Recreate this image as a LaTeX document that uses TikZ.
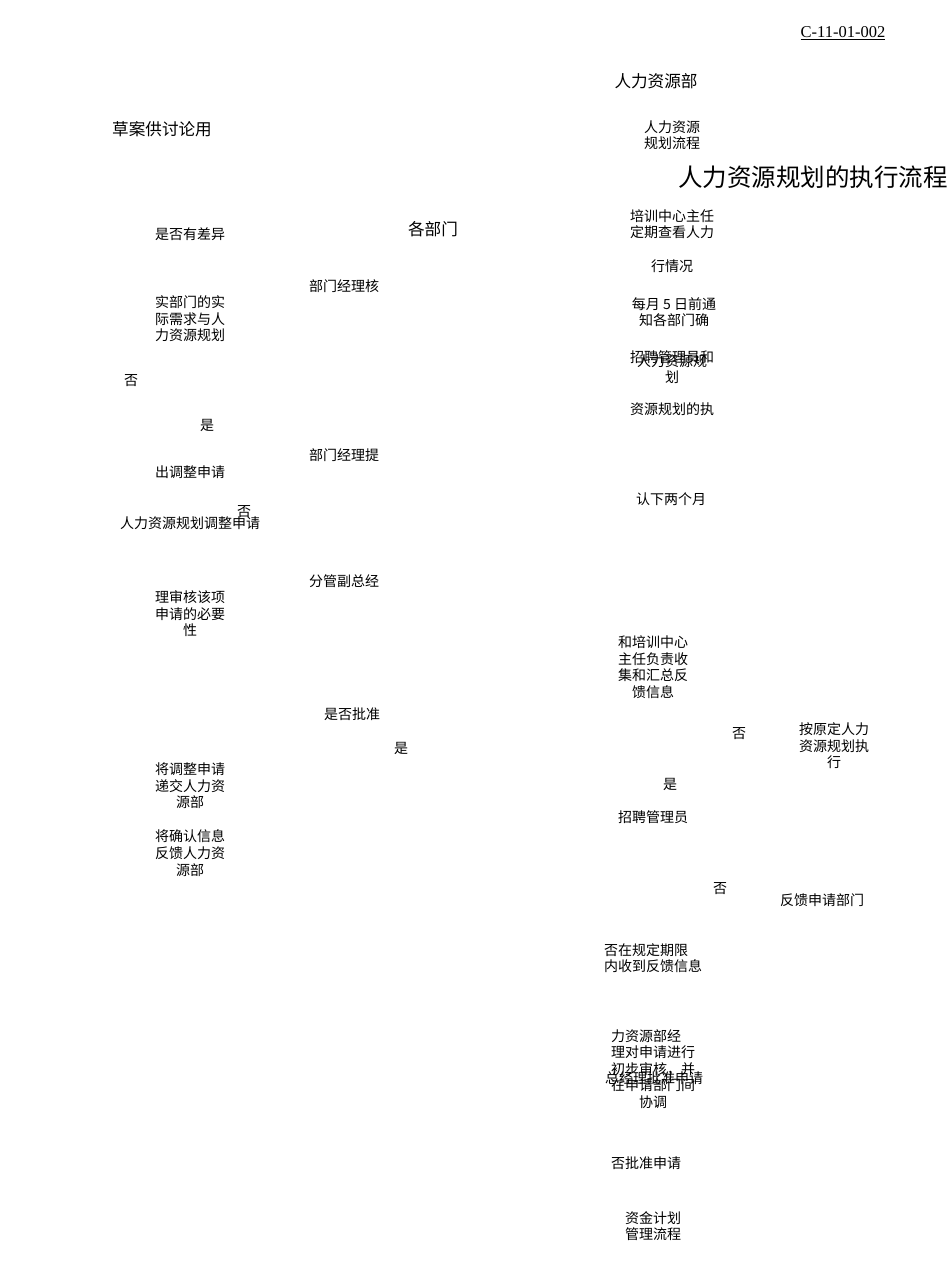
\documentclass[tikz,border=0pt]{standalone}
\usepackage{fontspec}
\setmainfont{Noto Sans CJK SC}
\newfontfamily\codefont{Liberation Serif}
\usetikzlibrary{positioning}

\begin{document}
\begin{tikzpicture}[
        x=1pt, y=-1pt,
        every node/.style={inner sep=0pt, font=\fontsize{14}{16.6}\selectfont},
        txt/.style={align=center},
        lefttxt/.style={align=left, anchor=west},
        head/.style={font=\fontsize{16.6}{20}\selectfont},
        bigtitle/.style={font=\fontsize{24.5}{28}\selectfont},
        code/.style={font=\codefont\fontsize{16.5}{19}\selectfont},
    ]
    \useasboundingbox (0,0) rectangle (950,1267);

    % Header
    \node [code] (docno) at (843,33) {\underline{C-11-01-002}};
    \node [head] (hrdept) at (656,81) {人力资源部};
    \node [head] (draft) at (162,129) {草案供讨论用};
    \node [txt] (hrplan) at (672,135) {人力资源\\规划流程};
    \node [bigtitle] (title) at (813,177) {人力资源规划的执行流程};
    \node [head] (depts) at (433,229) {各部门};

    % Left column
    \node (diff) at (190,234) {是否有差异};
    \node [txt] (compare) at (190,319) {实部门的实\\际需求与人\\力资源规划};
    \node (no1) at (131,381) {否};
    \node (yes1) at (207,425) {是};
    \node (adjreq) at (190,472) {出调整申请};
    \node (no2) at (244,512) {否};
    \node (adjform) at (190,523) {人力资源规划调整申请};
    \node [txt] (necess) at (190,614) {理审核该项\\申请的必要\\性};
    \node [txt] (submit) at (190,786) {将调整申请\\递交人力资\\源部};
    \node [txt] (confirm) at (190,853) {将确认信息\\反馈人力资\\源部};

    % Middle column
    \node (mgrchk) at (344,286) {部门经理核};
    \node (mgrreq) at (344,455) {部门经理提};
    \node (vp) at (344,581) {分管副总经};
    \node (approve) at (352,714) {是否批准};
    \node (yes2) at (401,748) {是};

    % Right column
    \node [txt] (review) at (672,224) {培训中心主任\\定期查看人力};
    \node (status) at (672,266) {行情况};
    \node [txt] (notify) at (674,312) {每月 5 日前通\\知各部门确};
    \node (recruit) at (672,357) {招聘管理员和};
    \node [txt] (hrplan2) at (672,369) {人力资源规\\划};
    \node (exec) at (672,409) {资源规划的执};
    \node (twomonth) at (671,499) {认下两个月};
    \node [txt] (collect) at (653,667) {和培训中心\\主任负责收\\集和汇总反\\馈信息};
    \node (no3) at (739,734) {否};
    \node [txt] (keep) at (834,746) {按原定人力\\资源规划执\\行};
    \node (yes3) at (670,784) {是};
    \node (recruiter) at (653,817) {招聘管理员};
    \node (no4) at (720,889) {否};
    \node (feedback) at (822,900) {反馈申请部门};
    \node [lefttxt] (deadline) at (604,958) {否在规定期限\\内收到反馈信息};
    \node [lefttxt] (prelim) at (611,1069) {力资源部经\\理对申请进行\\初步审核，并\\在申请部门间\\\hspace*{2em}协调};
    \node [lefttxt] (gmok) at (605,1078) {总经理批准申请};
    \node (final) at (646,1163) {否批准申请};
    \node [txt] (fund) at (653,1226) {资金计划\\管理流程};

\end{tikzpicture}
\end{document}
